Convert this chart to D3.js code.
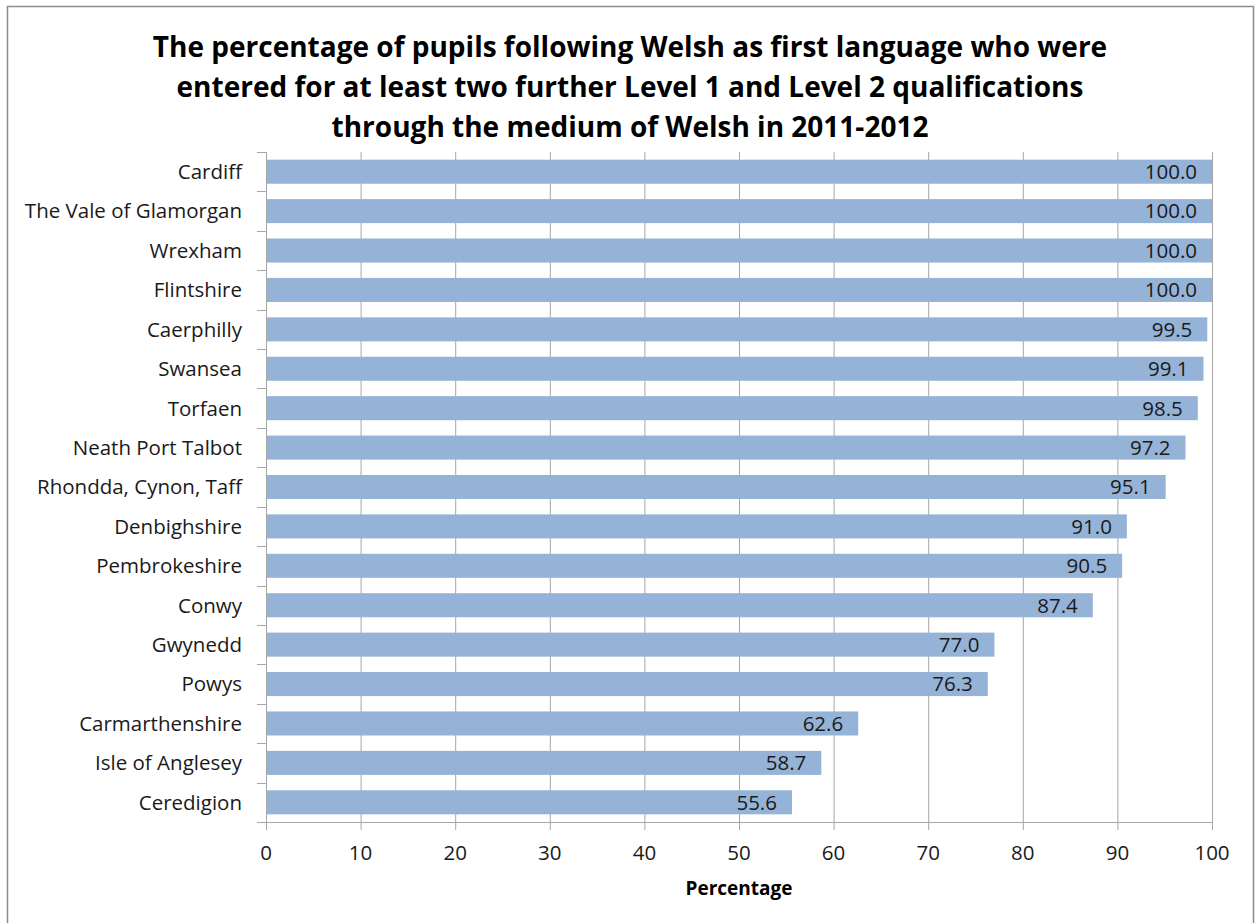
<!DOCTYPE html>
<html><head><meta charset="utf-8">
<script src="https://cdn.jsdelivr.net/npm/d3@7"></script>
<style>body{margin:0;background:#fff;} svg{display:block;}</style>
</head><body>
<svg id="chart" width="1255" height="923"></svg>
<script>
const categories = ["Cardiff","The Vale of Glamorgan","Wrexham","Flintshire","Caerphilly","Swansea","Torfaen","Neath Port Talbot","Rhondda, Cynon, Taff","Denbighshire","Pembrokeshire","Conwy","Gwynedd","Powys","Carmarthenshire","Isle of Anglesey","Ceredigion"];
const values = [100.0,100.0,100.0,100.0,99.5,99.1,98.5,97.2,95.1,91.0,90.5,87.4,77.0,76.3,62.6,58.7,55.6];
const xTicks = [0,10,20,30,40,50,60,70,80,90,100];
const titleLines = ["The percentage of pupils following Welsh as first language who were","entered for at least two further Level 1 and Level 2 qualifications","through the medium of Welsh in 2011-2012"];
const xTitle = "Percentage";

(function(){
const svg = d3.select("#chart");
const font = "'Open Sans', sans-serif";
svg.append("rect").attr("x",7.5).attr("y",6.5).attr("width",1246).attr("height",930)
  .attr("fill","#fff").attr("stroke","#8c8c8c").attr("stroke-width",1.5);

const pL=266, pR=1212, pT=152, pB=822;
const x = d3.scaleLinear().domain([0,100]).range([pL,pR]);
const y = d3.scaleBand().domain(categories).range([pT,pB]).paddingInner(0.39).paddingOuter(0.195);

svg.append("g").selectAll("line").data(xTicks).join("line")
  .attr("x1",d=>x(d)+0.5).attr("x2",d=>x(d)+0.5).attr("y1",pT).attr("y2",pB+8)
  .attr("stroke","#a6a6a6").attr("stroke-width",1);

svg.append("g").selectAll("rect").data(values).join("rect")
  .attr("x",x(0)).attr("y",(d,i)=>y(categories[i]))
  .attr("width",d=>x(d)-x(0)).attr("height",y.bandwidth())
  .attr("fill","#95b3d7");

svg.append("g").selectAll("text").data(values).join("text")
  .attr("x",d=>x(d)-15).attr("y",(d,i)=>y(categories[i])+y.bandwidth()/2)
  .attr("dy","0.36em").attr("text-anchor","end")
  .attr("font-family",font).attr("font-size",20.5).attr("fill","#1a1a1a")
  .text(d=>d.toFixed(1));

const step = y.step();
const yb = d3.range(categories.length+1).map(i=>pT+i*step);
svg.append("line").attr("x1",pL+0.5).attr("x2",pL+0.5).attr("y1",pT).attr("y2",pB)
  .attr("stroke","#a6a6a6");
svg.append("g").selectAll("line").data(yb).join("line")
  .attr("x1",pL-9).attr("x2",pL).attr("y1",d=>Math.round(d)+0.5).attr("y2",d=>Math.round(d)+0.5)
  .attr("stroke","#a6a6a6");
svg.append("g").selectAll("text").data(categories).join("text")
  .attr("x",242).attr("y",d=>y(d)+y.bandwidth()/2).attr("dy","0.36em")
  .attr("text-anchor","end").attr("font-family",font).attr("font-size",20.5).attr("fill","#1a1a1a")
  .text(d=>d);

svg.append("line").attr("x1",pL).attr("x2",pR).attr("y1",pB+0.5).attr("y2",pB+0.5)
  .attr("stroke","#a6a6a6");
svg.append("g").selectAll("text").data(xTicks).join("text")
  .attr("x",d=>x(d)).attr("y",853).attr("dy","0.36em").attr("text-anchor","middle")
  .attr("font-family",font).attr("font-size",20.5).attr("fill","#1a1a1a").text(d=>d);

svg.append("text").attr("x",(pL+pR)/2).attr("y",888).attr("dy","0.36em")
  .attr("text-anchor","middle").attr("font-family",font).attr("font-size",19)
  .attr("font-weight","bold").attr("fill","#000").text(xTitle);

svg.append("g").selectAll("text").data(titleLines).join("text")
  .attr("x",630).attr("y",(d,i)=>47+i*40).attr("dy","0.36em").attr("text-anchor","middle")
  .attr("font-family",font).attr("font-size",28).attr("font-weight","bold").attr("fill","#000")
  .text(d=>d);
})();
</script>
</body></html>
